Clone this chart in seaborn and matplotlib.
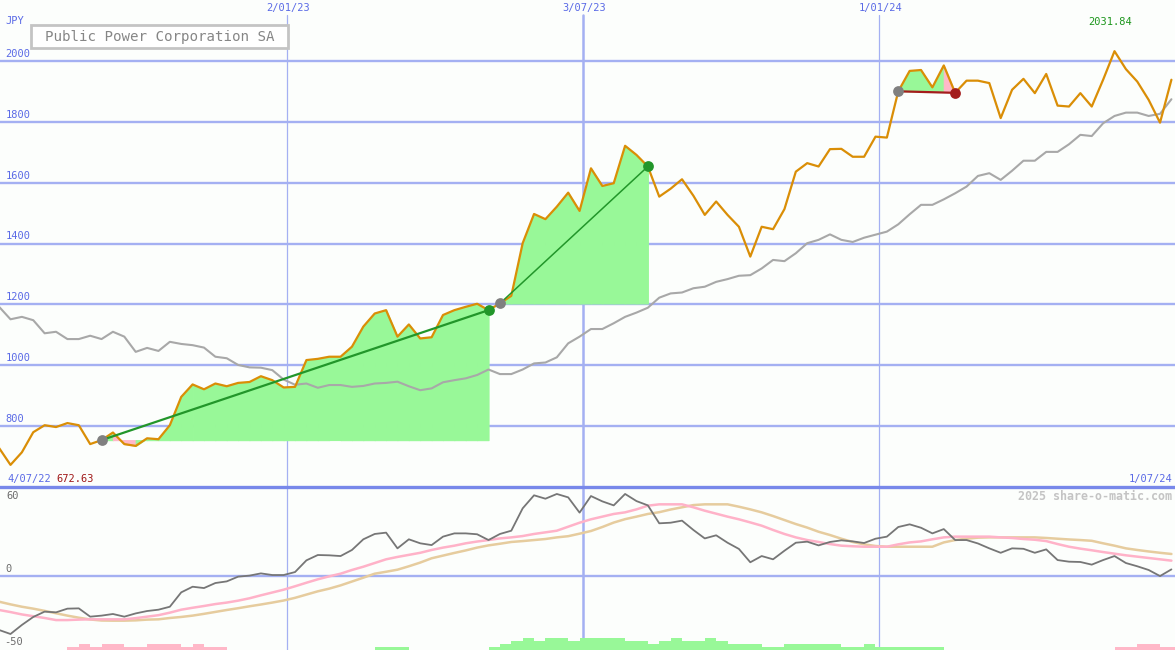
import matplotlib
matplotlib.use('Agg')
import matplotlib.pyplot as plt
import matplotlib.patches as patches
import numpy as np
import pandas as pd
import seaborn as sns

# weekly closes, Public Power Corporation SA
weeks = pd.date_range('2022-07-09', periods=104, freq='7D')

price = [728, 672.63, 714, 780, 803, 797, 810, 803, 741, 754,
         779, 741, 735, 760, 757, 803, 896, 937, 921, 940,
         931, 942, 945, 964, 951, 927, 929, 1017, 1021, 1028,
         1028, 1061, 1127, 1170, 1181, 1094, 1134, 1088, 1092, 1165,
         1181, 1192, 1202, 1181, 1203, 1228, 1401, 1497, 1480, 1521,
         1567, 1507, 1647, 1589, 1598, 1721, 1691, 1653, 1554, 1580,
         1611, 1557, 1494, 1538, 1494, 1455, 1357, 1455, 1447, 1513,
         1636, 1664, 1653, 1710, 1711, 1685, 1685, 1751, 1748, 1900,
         1967, 1970, 1913, 1985, 1895, 1935, 1935, 1927, 1812, 1905,
         1941, 1894, 1957, 1853, 1850, 1894, 1850, 1938, 2031.84, 1973,
         1932, 1872, 1797, 1938]

moving_avg = [1192, 1151, 1159, 1148, 1105, 1110, 1086, 1086, 1097, 1086,
              1110, 1094, 1044, 1057, 1047, 1077, 1070, 1066, 1058, 1028,
              1023, 1001, 993, 992, 984, 953, 936, 940, 926, 935,
              935, 929, 932, 940, 942, 946, 931, 918, 924, 944,
              951, 957, 968, 986, 971, 971, 986, 1006, 1009, 1026,
              1072, 1094, 1119, 1119, 1138, 1159, 1173, 1189, 1222, 1236,
              1239, 1253, 1258, 1274, 1283, 1294, 1296, 1318, 1346, 1342,
              1368, 1401, 1412, 1430, 1412, 1405, 1419, 1429, 1439, 1463,
              1496, 1527, 1527, 1545, 1565, 1587, 1622, 1631, 1609, 1639,
              1672, 1672, 1701, 1701, 1726, 1757, 1753, 1795, 1819, 1830,
              1830, 1819, 1826, 1874]

momentum = [-36.5, -39.2, -33.1, -27.7, -24.1, -24.6, -22.1, -21.9, -27.5, -26.8,
            -25.7, -27.5, -25.3, -23.7, -22.8, -20.8, -11.1, -7.3, -8.2, -4.8,
            -3.7, -0.5, 0.2, 1.7, 0.6, 0.6, 2.6, 10.5, 14.1, 13.9,
            13.4, 17.5, 24.7, 28.3, 29.2, 18.6, 24.7, 22.0, 20.8, 26.5,
            28.7, 28.7, 28.1, 24.2, 28.3, 30.5, 45.6, 54.4, 52.1, 55.3,
            53.0, 42.7, 53.9, 50.3, 47.6, 55.3, 50.5, 47.6, 35.5, 35.9,
            37.3, 31.0, 25.3, 27.4, 22.4, 18.2, 9.2, 13.4, 11.2, 17.0,
            22.4, 23.1, 20.6, 22.9, 24.0, 23.3, 22.2, 25.1, 26.5, 33.0,
            34.8, 32.5, 28.7, 31.6, 24.2, 24.2, 21.9, 18.6, 15.6, 18.6,
            18.3, 15.6, 17.9, 10.7, 9.6, 9.4, 7.6, 10.7, 13.4, 8.7,
            6.5, 4.0, -0.1, 4.4]

signal_fast = [-23.0, -24.4, -26.0, -27.2, -28.4, -29.8, -29.8, -29.5, -29.3, -29.3,
               -29.3, -29.3, -28.5, -27.5, -26.5, -24.8, -22.8, -21.5, -20.3, -19.0,
               -18.0, -16.7, -15.1, -13.1, -11.2, -9.3, -7.0, -4.6, -2.3, -0.3,
               1.5, 4.0, 6.2, 8.7, 11.2, 12.8, 14.2, 15.6, 17.5, 19.1,
               20.4, 22.0, 23.2, 24.2, 25.3, 26.0, 26.9, 28.3, 29.4, 30.5,
               33.2, 35.9, 38.2, 40.0, 41.8, 42.9, 44.9, 47.4, 48.3, 48.3,
               48.3, 46.3, 44.0, 42.0, 40.0, 38.2, 36.1, 33.9, 31.0, 28.3,
               26.0, 24.2, 22.9, 21.5, 20.4, 20.0, 19.7, 19.7, 19.7, 21.3,
               22.6, 23.3, 24.7, 26.0, 26.5, 26.5, 26.5, 26.5, 26.0, 25.6,
               24.9, 24.4, 23.5, 21.5, 19.7, 18.4, 17.3, 16.1, 15.0, 13.9,
               13.0, 12.1, 11.2, 10.3]

signal_slow = [-17.4, -19.2, -20.8, -22.1, -23.6, -25.2, -26.8, -28.2, -29.4, -30.1,
               -30.2, -30.2, -30.0, -29.5, -29.3, -28.4, -27.7, -26.8, -25.6, -24.3,
               -23.0, -21.8, -20.5, -19.3, -18.0, -16.6, -14.8, -12.6, -10.4, -8.6,
               -6.4, -3.8, -1.2, 1.5, 2.8, 4.2, 6.5, 9.0, 11.9, 13.7,
               15.5, 17.2, 19.1, 20.6, 21.7, 22.9, 23.5, 24.2, 24.9, 26.0,
               26.8, 28.5, 30.3, 33.0, 36.0, 38.3, 40.0, 41.8, 43.0, 44.8,
               46.3, 47.8, 48.3, 48.3, 48.3, 46.7, 44.9, 42.9, 40.4, 37.7,
               35.0, 32.6, 29.8, 27.6, 25.1, 22.9, 21.3, 20.2, 19.7, 19.7,
               19.7, 19.7, 19.7, 22.6, 24.2, 25.1, 25.8, 26.0, 26.0, 26.0,
               26.0, 26.0, 25.6, 25.1, 24.6, 24.2, 23.7, 22.0, 20.4, 18.6,
               17.5, 16.5, 15.6, 14.8]

histogram = [0, 0, 0, 0, 0, 0,
             -2, -4, -2, -4, -4, -2, -2, -4, -4, -4, -2, -4, -2, -2,
             0, 0, 0, 0, 0, 0, 0, 0, 0, 0, 0, 0, 0,
             2, 2, 2,
             0, 0, 0, 0, 0, 0, 0,
             2, 4, 6, 8, 6, 8, 8,
             6, 8, 8, 8, 8, 6, 6, 4, 6, 8,
             6, 6, 8, 6, 4, 4, 4, 2, 2, 4,
             4, 4, 4, 4, 2, 2, 4, 2, 2, 2,
             2, 2, 2, 0, 0, 0, 0, 0, 0, 0,
             0, 0, 0, 0, 0, 0, 0, 0,
             -2, -2, -4, -4, -2, -2]

# (buy week, sell week)
trades = [(9, 43), (44, 57), (79, 84)]

grid_dates = ['2023-01-02', '2023-07-03', '2024-01-01']
grid_labels = ['2/01/23', '3/07/23', '1/01/24']
grid_widths = [0.9, 1.8, 0.9]
price_ticks = [800, 1000, 1200, 1400, 1600, 1800, 2000]

bg = '#fcfefc'
grid_c = '#a4b0f2'
blue_txt = '#5a6ae6'
orange = '#da8e06'
green_fill = '#98f898'
pink_fill = '#ffb8c8'

sns.set_style('white')
plt.rcParams['font.family'] = ['DejaVu Sans Mono', 'DejaVu Sans']

fig = plt.figure(figsize=(11.75, 6.5), dpi=100, facecolor=bg)
ax = fig.add_axes([0, 163 / 650, 1, 487 / 650])
ax2 = fig.add_axes([0, 0, 1, 163 / 650])

x_lo = pd.Timestamp('2022-07-09 13:00')
x_hi = pd.Timestamp('2024-07-01 05:00')

for a in (ax, ax2):
    a.set_facecolor(bg)
    for s in a.spines.values():
        s.set_visible(False)
    a.set_xticks([])
    a.set_yticks([])
    a.set_xlim(x_lo, x_hi)

# ---- top panel ----
ax.set_ylim(600, 2200)
for v in price_ticks:
    ax.axhline(v, color=grid_c, lw=1.7, zorder=0)
    ax.annotate(str(v), xy=(0, v), xycoords=('axes fraction', 'data'),
                xytext=(4, 1.5), textcoords='offset points', va='bottom',
                color=blue_txt, fontsize=7.5)
for d, lab, w in zip(grid_dates, grid_labels, grid_widths):
    ax.axvline(pd.Timestamp(d), ymax=0.969, color=grid_c, lw=w, zorder=0)
    ax.annotate(lab, xy=(pd.Timestamp(d), 1), xycoords=('data', 'axes fraction'),
                xytext=(1, -2.5), textcoords='offset points', ha='center', va='top',
                color=blue_txt, fontsize=7.5)

# profit / loss shading of each trade, segment by segment
for b, s in trades:
    buy = price[b]
    for i in range(b, s):
        col = green_fill if price[i + 1] >= buy else pink_fill
        ax.fill_between(weeks[i:i + 2], price[i:i + 2], buy, facecolor=col,
                        edgecolor=col, lw=0.8, zorder=1)

sns.lineplot(x=weeks, y=moving_avg, ax=ax, color='#a8a8a8', lw=1.5, zorder=2)
sns.lineplot(x=weeks, y=price, ax=ax, color=orange, lw=1.6, zorder=3)

for n, (b, s) in enumerate(trades):
    win = price[s] >= price[b]
    lc = '#22962a' if win else '#a41c1c'
    ax.plot([weeks[b], weeks[s]], [price[b], price[s]], color=lc,
            lw=1.6 if n != 1 else 1.1, zorder=4)
    ax.scatter([weeks[b]], [price[b]], s=60, color='#808080', zorder=5, lw=0)
    ax.scatter([weeks[s]], [price[s]], s=60, color=lc, zorder=5, lw=0)

ax.text(5 / 1175, 1 - 21 / 487, 'JPY', transform=ax.transAxes, va='center',
        color=blue_txt, fontsize=7.5)
box = patches.Rectangle((31 / 1175, 1 - 48 / 650), 257 / 1175, 23 / 650,
                        transform=fig.transFigure, fc='white', ec='#c4c4c4', lw=2, zorder=10)
fig.add_artist(box)
fig.text(159.5 / 1175, 1 - 36.5 / 650, 'Public Power Corporation SA', ha='center',
         va='center', color='#868686', fontsize=10.2, zorder=11)

hi = int(np.argmax(price))
lo = int(np.argmin(price))
ax.annotate(f'{price[hi]:.2f}', xy=(weeks[hi], 1), xycoords=('data', 'axes fraction'),
            xytext=(-3, -16), textcoords='offset points', ha='center', va='center',
            color='#1c961c', fontsize=7.5)
ax.text(7 / 1175, 8 / 487, '4/07/22', transform=ax.transAxes, va='center',
        color=blue_txt, fontsize=7.5)
ax.text(56 / 1175, 8 / 487, f'{price[lo]:.2f}', transform=ax.transAxes, va='center',
        color='#a01818', fontsize=7.5)
ax.text(1172 / 1175, 8 / 487, '1/07/24', transform=ax.transAxes, va='center', ha='right',
        color=blue_txt, fontsize=7.5)

# ---- bottom panel ----
ax2.set_ylim(-50, 60)
ax2.spines['top'].set_visible(True)
ax2.spines['top'].set_color('#7888ea')
ax2.spines['top'].set_linewidth(2.4)
ax2.axhline(0, color=grid_c, lw=1.7, zorder=0)
for d, w in zip(grid_dates, grid_widths):
    ax2.axvline(pd.Timestamp(d), color=grid_c, lw=w, zorder=0)

hist = np.array(histogram, dtype=float)
ax2.bar(weeks, np.abs(hist), bottom=-50, width=7, align='edge',
        color=[green_fill if h > 0 else pink_fill for h in hist], lw=0, zorder=1)

sns.lineplot(x=weeks, y=signal_slow, ax=ax2, color='#e6cc9e', lw=1.8, zorder=2)
sns.lineplot(x=weeks, y=signal_fast, ax=ax2, color='#ffb2c8', lw=1.8, zorder=3)
sns.lineplot(x=weeks, y=momentum, ax=ax2, color='#767676', lw=1.3, zorder=4)
ax2.set_xlim(x_lo, x_hi)
ax2.set_ylim(-50, 60)
ax2.set_xlabel('')
ax.set_xlabel('')

ax2.text(6 / 1175, 1 - 9 / 163, '60', transform=ax2.transAxes, va='center',
         color='#6c6c6c', fontsize=7.5)
ax2.annotate('0', xy=(0, 0), xycoords=('axes fraction', 'data'), xytext=(4, 1.5),
             textcoords='offset points', va='bottom', color='#6c6c6c', fontsize=7.5)
ax2.text(4 / 1175, 8 / 163, '-50', transform=ax2.transAxes, va='center',
         color='#6c6c6c', fontsize=7.5)
ax2.text(1172 / 1175, 1 - 9 / 163, '2025 share-o-matic.com', transform=ax2.transAxes,
         va='center', ha='right', color='#c4c4c4', fontsize=8.4, fontweight='bold')

fig.savefig('out.png', dpi=100, facecolor=bg)
